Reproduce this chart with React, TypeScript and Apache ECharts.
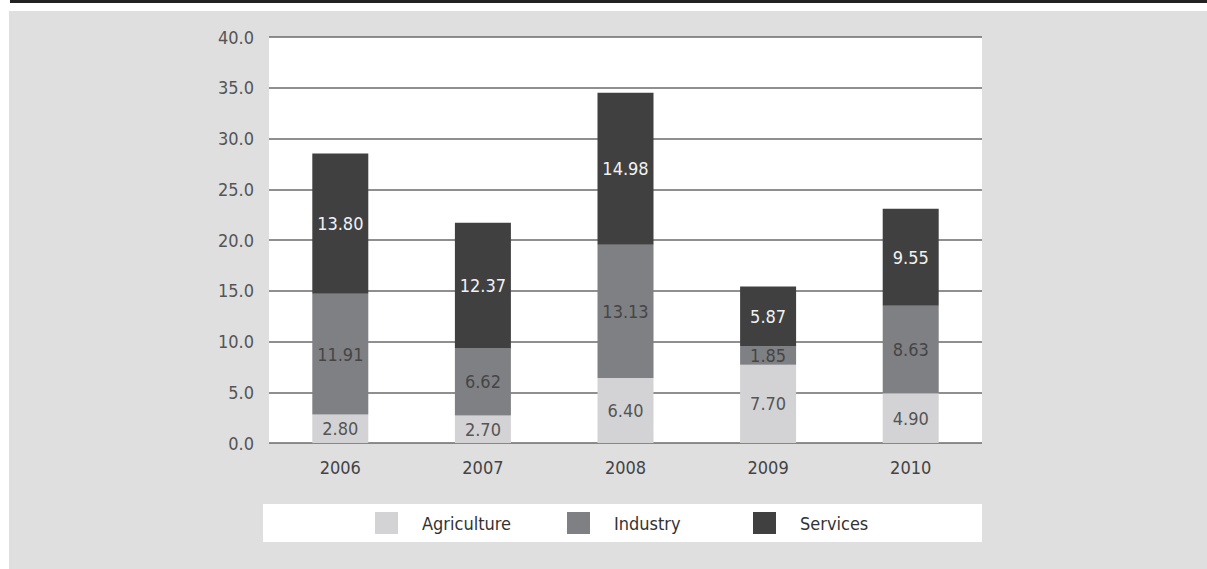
import React, { useEffect, useRef } from "react";
import * as echarts from "echarts";

const years = ["2006", "2007", "2008", "2009", "2010"];
const agriculture = [2.8, 2.7, 6.4, 7.7, 4.9];
const industry = [11.91, 6.62, 13.13, 1.85, 8.63];
const services = [13.8, 12.37, 14.98, 5.87, 9.55];
const seriesNames = ["Agriculture", "Industry", "Services"];

const FONT = "'Liberation Sans Narrow', 'DejaVu Sans Condensed', sans-serif";

export default function App() {
  const ref = useRef<HTMLDivElement>(null);
  useEffect(() => {
    const chart = echarts.init(ref.current!, null, { renderer: "svg" });
    const colors = ["#d3d3d5", "#7f8083", "#404040"];
    const labelColors = ["#555555", "#454545", "#f2f2f2"];
    const datas = [agriculture, industry, services];
    chart.setOption({
      animation: false,
      graphic: [
        { type: "rect", shape: { x: 9, y: 11, width: 1198, height: 558 }, style: { fill: "#dfdfe0" }, z: -10 },
        { type: "rect", shape: { x: 10, y: 0, width: 1197, height: 3 }, style: { fill: "#222222" }, z: -10 },
        { type: "rect", shape: { x: 263, y: 504, width: 719, height: 38 }, style: { fill: "#ffffff" }, z: -10 },
      ],
      grid: {
        left: 269,
        right: 225,
        top: 37,
        bottom: 126,
        show: true,
        backgroundColor: "#ffffff",
        borderWidth: 0,
      },
      legend: seriesNames.map((n, i) => ({
        data: [n],
        left: [370, 562, 748][i],
        top: 507,
        itemWidth: 23,
        itemHeight: 22,
        icon: "rect",
        textStyle: { fontFamily: FONT, fontSize: 18, color: "#333333", padding: [0, 0, 0, 19] },
      })),
      xAxis: {
        type: "category",
        data: years,
        axisLine: { show: false },
        axisTick: { show: false },
        axisLabel: { fontFamily: FONT, fontSize: 18, color: "#444444", margin: 15 },
      },
      yAxis: {
        type: "value",
        min: 0,
        max: 40,
        interval: 5,
        axisLine: { show: false },
        axisTick: { show: false },
        axisLabel: {
          fontFamily: FONT,
          fontSize: 18,
          color: "#555555",
          margin: 15,
          formatter: (v: number) => v.toFixed(1),
        },
        splitLine: { lineStyle: { color: "#6a6a6a", width: 1.5 } },
      },
      series: seriesNames.map((n, i) => ({
        name: n,
        type: "bar",
        stack: "total",
        barWidth: 56,
        data: datas[i],
        itemStyle: { color: colors[i] },
        label: {
          show: true,
          position: "inside",
          fontFamily: FONT,
          fontSize: 18,
          color: labelColors[i],
          formatter: (p: any) => Number(p.value).toFixed(2),
        },
      })),
    });
    return () => chart.dispose();
  }, []);
  return (
    <div
      ref={ref}
      style={{ position: "fixed", left: 0, top: 0, width: 1207, height: 569, background: "#ffffff" }}
    />
  );
}
